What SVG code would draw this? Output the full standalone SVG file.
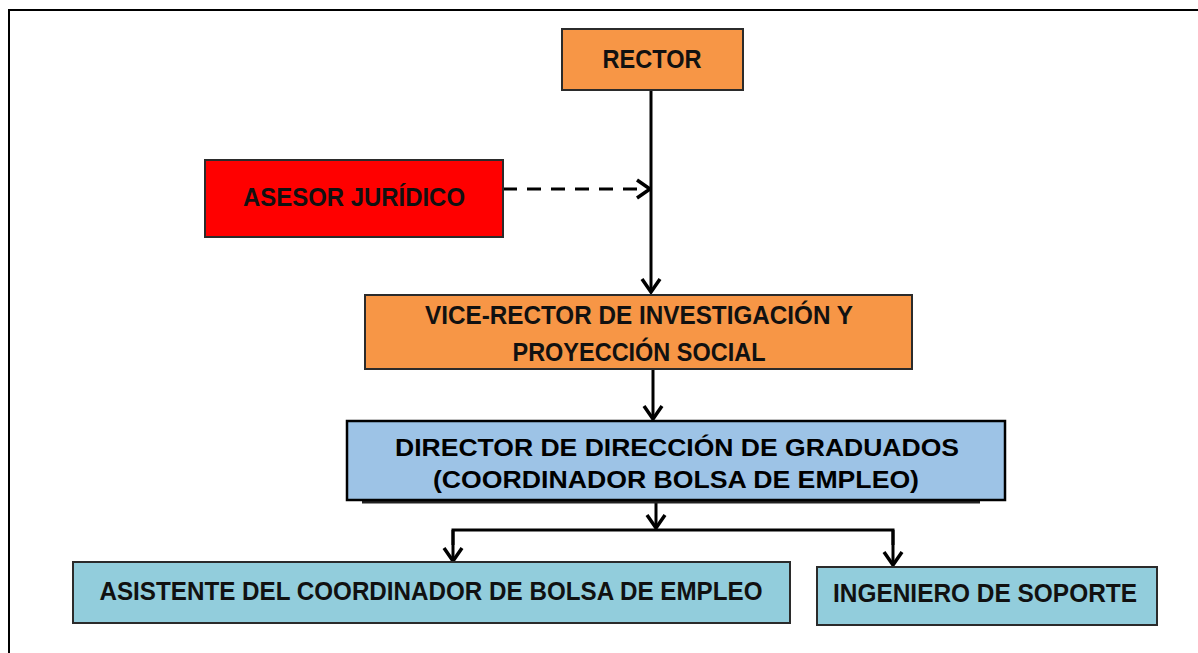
<svg xmlns="http://www.w3.org/2000/svg" width="1198" height="653" viewBox="0 0 1198 653">
<style>
.box{stroke:#2b2b2b;stroke-width:2}
.c{font-family:"Liberation Sans",Arial,sans-serif;font-weight:bold;fill:#111;text-anchor:middle}
.t{font-size:26px}
.a{font-size:24px;fill:#000}
.ln{stroke:#000;stroke-width:3;fill:none}
</style>
<defs>
<marker id="ah" viewBox="0 0 18 22" refX="16" refY="11" markerWidth="18" markerHeight="22" markerUnits="userSpaceOnUse" orient="auto">
<path d="M3,2 L16,11 L3,20" fill="none" stroke="#000" stroke-width="3.5"/>
</marker>
</defs>
<rect width="1198" height="653" fill="#fff"/>
<path d="M9,653 L9,10 L1198,10" fill="none" stroke="#000" stroke-width="2"/>
<g id="connectors">
<line class="ln" x1="651" y1="90" x2="651" y2="292" marker-end="url(#ah)"/>
<line class="ln" x1="503" y1="189" x2="650" y2="189" stroke-width="4" stroke-dasharray="14,10" marker-end="url(#ah)"/>
<line class="ln" x1="653" y1="369" x2="653" y2="419" marker-end="url(#ah)"/>
<line class="ln" x1="656" y1="503" x2="656" y2="528" marker-end="url(#ah)"/>
<polyline class="ln" points="453,545 453,530 893,530 893,545"/>
<line class="ln" x1="453" y1="530" x2="453" y2="561" marker-end="url(#ah)"/>
<line class="ln" x1="893" y1="530" x2="893" y2="565" marker-end="url(#ah)"/>
</g>
<g id="rector">
<rect class="box" x="562" y="29" width="181" height="61" fill="#F79646"/>
<text class="c t" x="652" y="68" textLength="99" lengthAdjust="spacingAndGlyphs">RECTOR</text>
</g>
<g id="asesor">
<rect class="box" x="205" y="160" width="298" height="77" fill="#FF0000"/>
<text class="c t" x="354" y="206" textLength="222" lengthAdjust="spacingAndGlyphs">ASESOR JURÍDICO</text>
</g>
<g id="vicerrector">
<rect class="box" x="365" y="295" width="547" height="74" fill="#F79646"/>
<text class="c t" x="639" y="324" textLength="428" lengthAdjust="spacingAndGlyphs">VICE-RECTOR DE INVESTIGACIÓN Y</text>
<text class="c t" x="639" y="361" textLength="253" lengthAdjust="spacingAndGlyphs">PROYECCIÓN SOCIAL</text>
</g>
<g id="director">
<line x1="362" y1="502" x2="980" y2="502" stroke="#222" stroke-width="3"/>
<rect x="347" y="421" width="658" height="79" fill="#9DC3E6" stroke="#000" stroke-width="2.5"/>
<text class="c a" x="677" y="456" textLength="564" lengthAdjust="spacingAndGlyphs">DIRECTOR DE DIRECCIÓN DE GRADUADOS</text>
<text class="c a" x="676" y="488" textLength="486" lengthAdjust="spacingAndGlyphs">(COORDINADOR BOLSA DE EMPLEO)</text>
</g>
<g id="asistente">
<rect class="box" x="73" y="562" width="717" height="61" fill="#92CDDC"/>
<text class="c t" x="431" y="600" textLength="663" lengthAdjust="spacingAndGlyphs">ASISTENTE DEL COORDINADOR DE BOLSA DE EMPLEO</text>
</g>
<g id="ingeniero">
<rect class="box" x="817" y="567" width="340" height="58" fill="#92CDDC"/>
<text class="c t" x="985" y="602" textLength="304" lengthAdjust="spacingAndGlyphs">INGENIERO DE SOPORTE</text>
</g>
</svg>
